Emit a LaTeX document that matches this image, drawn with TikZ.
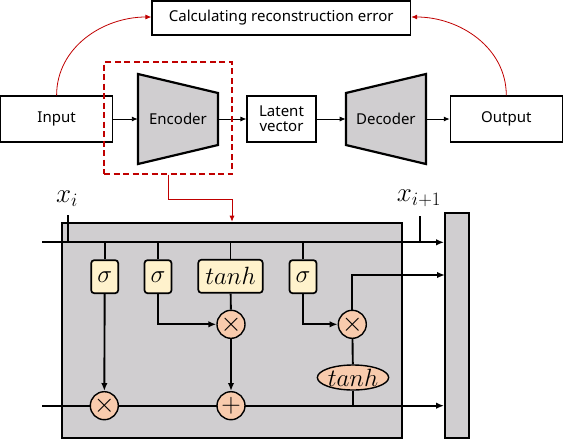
\RequirePackage{fix-cm}
\documentclass[tikz,border=0pt]{standalone}
\usepackage[no-math]{fontspec}
\setmainfont{Noto Sans}
\usetikzlibrary{arrows.meta,shapes.geometric}

\begin{document}
\begin{tikzpicture}[x=1pt, y=-1pt,
	block/.style={draw, line width=1.1pt, fill=white, align=center, inner sep=0pt, font=\fontsize{15}{17}\selectfont},
	coder/.style={draw, line width=2.2pt, fill=cellgray, line join=miter},
	coderlabel/.style={inner sep=0pt, minimum width=80pt, minimum height=52pt, font=\fontsize{15}{17}\selectfont},
	gate/.style={draw, line width=1.7pt, rounded corners=3pt, fill=gateyellow, minimum height=33pt, minimum width=27pt, inner sep=0pt, font=\fontsize{25}{27}\selectfont},
	op/.style={circle, draw, line width=1.4pt, fill=opsalmon, minimum size=28pt, inner sep=0pt, font=\fontsize{27}{27}\selectfont},
	label/.style={font=\fontsize{27}{29}\selectfont},
	wire/.style={line width=1.9pt},
	flow/.style={line width=0.9pt, -{Latex[length=6pt,width=5pt]}},
	tip/.style={-{Latex[length=8pt,width=6.5pt]}}]
	\definecolor{cellgray}{RGB}{208, 206, 208}
	\definecolor{gateyellow}{RGB}{255, 242, 204}
	\definecolor{opsalmon}{RGB}{248, 203, 173}
	\definecolor{errred}{RGB}{192, 0, 0}

	\useasboundingbox (0, 0) rectangle (563, 440);

	% \drawcoder#name#xcenter#lefthalfheight#righthalfheight#label
	\def\drawcoder#1#2#3#4#5{
		\draw[coder] (#2 - 40, 119 - #3) -- (#2 + 40, 119 - #4) -- (#2 + 40, 119 + #4) -- (#2 - 40, 119 + #3) -- cycle;
		\node[coderlabel] (#1) at (#2, 119) {#5};
	}

	% autoencoder
	\node[block, minimum width=258.7pt, minimum height=34pt] (error) at (281.3, 18) {Calculating reconstruction error};
	\node[block, minimum width=112pt, minimum height=46pt] (input) at (56.6, 119) {Input};
	\drawcoder{encoder}{178}{45}{26}{Encoder}
	\node[block, minimum width=69pt, minimum height=46pt] (latent) at (281.5, 119) {Latent\\[-2pt]vector};
	\drawcoder{decoder}{385.9}{26}{45}{Decoder}
	\node[block, minimum width=112pt, minimum height=46pt] (output) at (506.3, 119) {Output};
	\draw[flow] (input) -- (encoder);
	\draw[flow] (encoder) -- (latent);
	\draw[flow] (latent) -- (decoder);
	\draw[flow] (decoder) -- (output);
	\draw[errred, line width=0.8pt, -{Latex[length=6pt,width=5pt]}] (input.north) to[out=90, in=180] ([yshift=1pt]error.west);
	\draw[errred, line width=0.8pt, -{Latex[length=6pt,width=5pt]}] (output.north) to[out=90, in=0] ([yshift=1pt]error.east);
	\node[draw=errred, dashed, dash pattern=on 6pt off 3.5pt, line width=1.4pt, minimum width=128pt, minimum height=112pt] (select) at (168, 118) {};

	% lstm cell
	\node[draw, line width=2pt, fill=cellgray, minimum width=340.6pt, minimum height=215.6pt] (cell) at (232, 330.5) {};
	\node[draw, line width=2pt, fill=cellgray, minimum width=24.3pt, minimum height=225pt] (bar) at (457.2, 325.8) {};
	\draw[errred, line width=0.8pt, -{Latex[length=6pt,width=5pt]}] (select.south) -- ++(0, 24.3) -| (cell.north);

	\coordinate (hin) at (42.3, 242.3);
	\coordinate (cin) at (42.3, 405.7);
	\coordinate (hout) at (445, 275);
	\draw[wire, tip] (hin) -- (bar.west |- hin);
	\draw[wire, tip] (cin) -- (bar.west |- cin);
	\node[label] (xi) at (67, 199) {$x_i$};
	\node[label] (xnext) at (419, 198) {$x_{i+1}$};
	\draw[wire] (67.7, 215) -- (67.7, 242.3);
	\draw[wire] (420, 216) -- (420, 242.3);

	\node[gate] (forget) at (104.7, 276.7) {$\sigma$};
	\node[gate] (inputgate) at (158, 276.7) {$\sigma$};
	\node[gate, minimum width=64.4pt] (candidate) at (230.5, 276.3) {$tanh$};
	\node[gate] (outgate) at (303, 276.7) {$\sigma$};
	\foreach \g in {forget, inputgate, candidate, outgate}
		\draw[wire] (\g.north) -- (\g.north |- hin);

	\node[op] (fmul) at (104.3, 405.7) {$\times$};
	\node[op] (imul) at (231, 324.3) {$\times$};
	\node[op] (add) at (231, 405.7) {$+$};
	\node[op] (omul) at (352.3, 324.3) {$\times$};
	\node[ellipse, draw, line width=1.4pt, fill=opsalmon, minimum width=68pt, minimum height=25pt, inner sep=0pt, font=\fontsize{25}{27}\selectfont] (squash) at (353, 377.5) {$tanh$};

	\draw[wire, tip] (forget) -- (fmul);
	\draw[wire, tip] (inputgate) |- (imul);
	\draw[wire] (candidate) -- (imul);
	\draw[wire, tip] (imul) -- (add);
	\draw[wire, tip] (outgate) |- (omul);
	\draw[wire, tip] (omul) |- (hout);
	\draw[wire] (omul) -- (squash);
	\draw[wire] (squash.south) -- (squash.south |- cin);
\end{tikzpicture}
\end{document}
